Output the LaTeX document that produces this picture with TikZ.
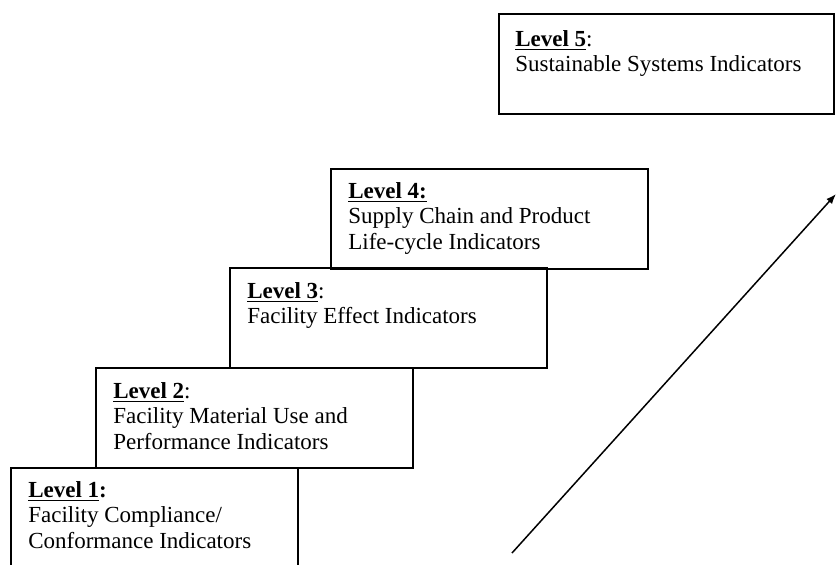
\documentclass[tikz,border=0pt]{standalone}
\usepackage{fontspec}
\setmainfont{Liberation Serif}
\usepackage{tikz}
\usetikzlibrary{positioning,arrows,arrows.meta,calc}
\tikzset{
    x=0.6pt,
    y=-0.6pt,
    level/.style = {
        draw,
        shape=rectangle,
        anchor=north west,
        minimum width=190.2pt,
        minimum height=60pt,
        line width=1.2pt
    },
    leveltext/.style = {
        anchor=north west,
        align=left,
        inner sep=0pt,
        font=\fontsize{13.8}{15.4}\selectfont
    },
    >={Latex[length=6pt,width=4.5pt]},
}

\begin{document}
\begin{tikzpicture}
        \useasboundingbox (0,0) rectangle (837,564);
        \clip (0,0) rectangle (837,564);

        \node[level, minimum width=172.2pt] (lv1) at (10,467) {};
        \node[level] (lv2) at (95,367) {};
        \node[level] (lv3) at (229,267) {};
        \node[level] (lv4) at (330,168) {};
        \node[level, minimum width=201pt] (lv5) at (498,13) {};

        \node[leveltext] (lv1txt) at ($(lv1.north west)+(18,14)$)
            {\underline{\textbf{Level 1}}\textbf{:}\\Facility Compliance/\\Conformance Indicators};
        \node[leveltext] (lv2txt) at ($(lv2.north west)+(18,15)$)
            {\underline{\textbf{Level 2}}:\\Facility Material Use and\\Performance Indicators};
        \node[leveltext] (lv3txt) at ($(lv3.north west)+(18,15)$)
            {\underline{\textbf{Level 3}}:\\Facility Effect Indicators};
        \node[leveltext] (lv4txt) at ($(lv4.north west)+(18,14)$)
            {\underline{\textbf{Level 4:}}\\Supply Chain and Product\\Life-cycle Indicators};
        \node[leveltext] (lv5txt) at ($(lv5.north west)+(17,17)$)
            {\underline{\textbf{Level 5}}:\\Sustainable Systems Indicators};

        \coordinate (low) at (512,553);
        \coordinate (high) at (836,194);
        \path[draw, ->, line width=0.9pt] (low) -- (high);
    \end{tikzpicture}
\end{document}
